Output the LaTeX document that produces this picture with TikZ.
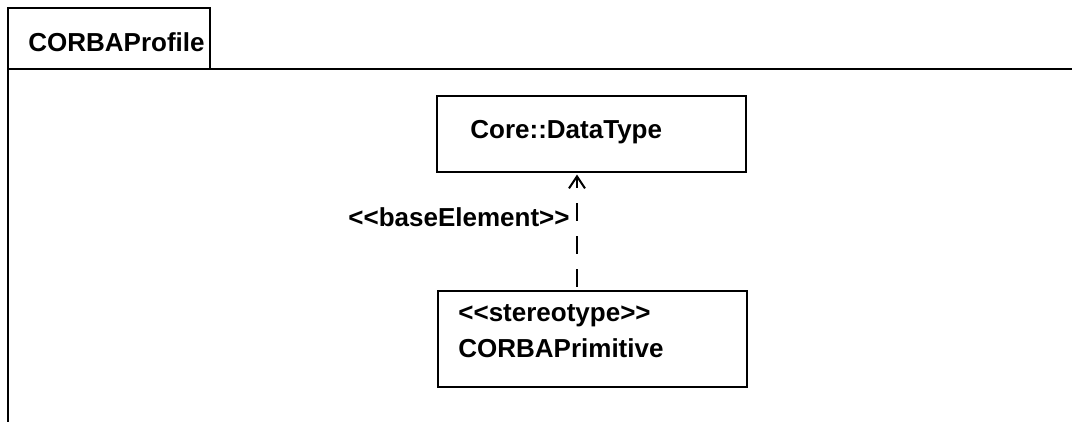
\documentclass[tikz,border=0pt]{standalone}
\usepackage{fontspec}
\setmainfont{Liberation Sans}[Ligatures=TeXOff]
\usetikzlibrary{positioning,arrows.meta}

\tikzset{
  umlbox/.style={draw,line width=1pt,inner sep=0pt,minimum width=154.5pt},
  umltext/.style={anchor=base west,inner sep=0pt,font=\bfseries\fontsize{13}{15}\selectfont},
  basedep/.style={line width=1pt,dash pattern=on 9pt off 7.5pt,-{Straight Barb[length=6pt,width=8pt]}}
}

\begin{document}
\begin{tikzpicture}[x=0.5pt,y=-0.5pt]
          \useasboundingbox (0,0) rectangle (1072,422);

          % Draw the package
          \draw[line width=1pt] (8,422) -- (8,8) -- (210,8) -- (210,69);
          \draw[line width=1pt] (8,69) -- (1072,69);
          \node[umltext] (pkg) at (28,52) {CORBAProfile};

          % Draw the classes
          \node[umlbox,minimum height=38pt] (core) at (591.5,134) {};
          \node[umltext] (coretxt) at (470,139) {Core::DataType};
          \node[umlbox,minimum height=48pt] (prim) at (592.5,339) {};
          \node[umltext] (stereo) at (458,322) {<<stereotype>>};
          \node[umltext] (primtxt) at (458,358) {CORBAPrimitive};

          % Draw the dependency
          \coordinate (dep) at (577,287);
          \draw[basedep] (dep) -- ([yshift=-0.8pt]dep |- core.south);
          \node[umltext,anchor=base east] (base) at (570,227) {<<baseElement>>};

        \end{tikzpicture}
\end{document}
